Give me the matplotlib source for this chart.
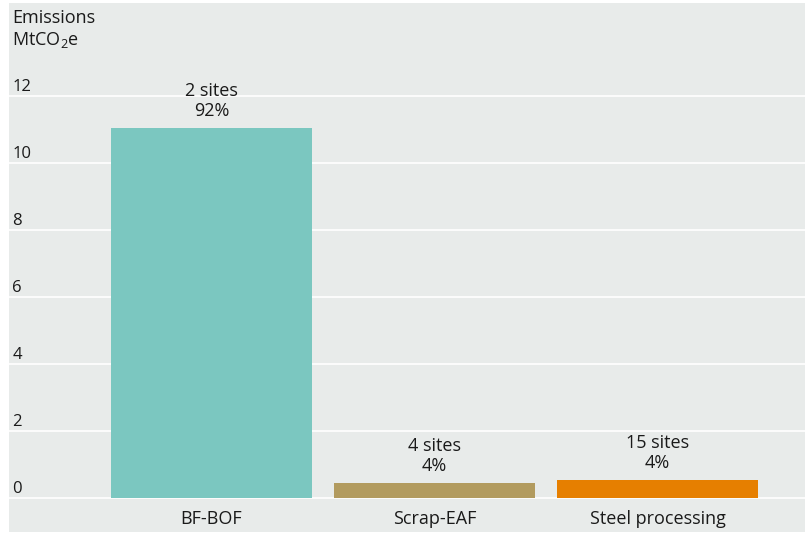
import matplotlib
matplotlib.use("Agg")
import matplotlib.pyplot as plt
import matplotlib.transforms as mtransforms

categories = ["BF-BOF", "Scrap-EAF", "Steel processing"]
emissions = [11.04, 0.44, 0.53]
sites = [2, 4, 15]
shares = [92, 4, 4]
bar_colors = ["#7bc7c0", "#b29b5f", "#e67f00"]
y_ticks = [0, 2, 4, 6, 8, 10, 12]

plt.rcParams["font.family"] = ["Open Sans", "DejaVu Sans"]
plt.rcParams["mathtext.default"] = "regular"

bg = "#e8ebea"
text_color = "#1a1a1a"

fig = plt.figure(figsize=(8.10, 5.33), dpi=100)
ax = fig.add_axes([9 / 810, 1 / 533, 796 / 810, 529 / 533])
ax.set_facecolor(bg)

x = list(range(len(categories)))
bars = ax.bar(x, emissions, width=0.9, color=bar_colors, zorder=3)

ax.set_xlim(-0.908, 2.661)
ax.set_ylim(-1.02, 14.77)

ax.set_yticks(y_ticks)
ax.set_xticks([])
ax.tick_params(axis="y", length=0, labelleft=False)
ax.grid(axis="y", color="white", linewidth=1.2, zorder=1)
for s in ax.spines.values():
    s.set_visible(False)

# y tick labels sit just above their gridlines, at the left edge
ytrans = mtransforms.blended_transform_factory(ax.transAxes, ax.transData)
for v in y_ticks:
    ax.annotate(str(v), xy=(0.004, v), xycoords=ytrans,
                xytext=(0, 3.5), textcoords="offset points",
                ha="left", va="baseline", fontsize=12, color=text_color)

# category labels below the baseline
for xi, name in zip(x, categories):
    ax.text(xi, -0.62, name, ha="center", va="center",
            fontsize=13, color=text_color)

# site counts and shares above each bar
for xi, val, n, p in zip(x, emissions, sites, shares):
    ax.annotate(f"{n} sites\n{p}%", xy=(xi, val),
                xytext=(0, 6), textcoords="offset points",
                ha="center", va="bottom", fontsize=13,
                linespacing=1.15, color=text_color)

# axis title
ax.text(0.004, 0.988, "Emissions\nMtCO$_2$e", transform=ax.transAxes,
        ha="left", va="top", fontsize=13, linespacing=1.2,
        color=text_color)

fig.savefig("out.png", dpi=100, facecolor="white")
